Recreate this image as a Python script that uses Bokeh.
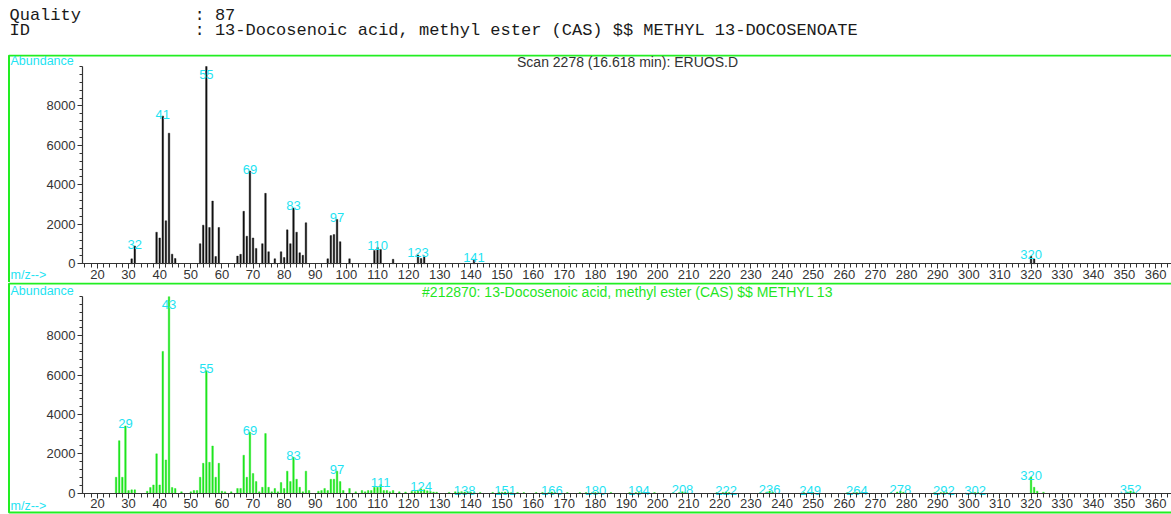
from bokeh.plotting import figure
from bokeh.models import Range1d, FixedTicker, SingleIntervalTicker, Label, BoxAnnotation, ColumnDataSource
from bokeh.layouts import column
from bokeh.embed import file_html
from bokeh.resources import INLINE
from bokeh.core.properties import value

# ---------------- data ----------------
header_quality = "87"
header_id = "13-Docosenoic acid, methyl ester (CAS) $$ METHYL 13-DOCOSENOATE"
top_title = "Scan 2278 (16.618 min): ERUOS.D"
bottom_title = "#212870: 13-Docosenoic acid, methyl ester (CAS) $$ METHYL 13"

top_mz = [31, 32, 39, 40, 41, 42, 43, 44, 45, 53, 54, 55, 56, 57, 58, 59,
          65, 66, 67, 68, 69, 70, 71, 73, 74, 75, 77, 79, 80, 81, 82, 83,
          84, 85, 86, 87, 94, 95, 96, 97, 98, 101, 109, 110, 111, 115,
          123, 124, 125, 141, 320, 321]
top_ab = [250, 900, 1600, 1310, 7490, 2180, 6620, 490, 270, 1020, 1960, 10000, 1840, 3180, 370, 1840,
          390, 480, 2660, 1400, 4700, 1310, 780, 1020, 3570, 610, 255, 610, 320, 1720, 1020, 2830,
          1600, 560, 430, 2080, 255, 1430, 1480, 2250, 1120, 255, 680, 830, 730, 230,
          450, 270, 400, 230, 380, 240]
top_labels = [32, 41, 55, 69, 83, 97, 110, 123, 141, 320]

bot_mz = [26, 27, 28, 29, 30, 31, 32, 36, 37, 38, 39, 40, 41, 42, 43, 44, 45, 47, 50, 51, 52,
          53, 54, 55, 56, 57, 58, 59, 60, 61, 63, 65, 66, 67, 68, 69, 70, 71, 72, 73, 74, 75,
          76, 77, 78, 79, 80, 81, 82, 83, 84, 85, 86, 87, 88, 91, 92, 93, 94, 95, 96, 97, 98,
          99, 101, 103, 105, 106, 107, 108, 109, 110, 111, 112, 113, 114, 115,
          117, 119, 121, 122, 123, 124, 125, 126, 127, 128, 129, 133, 135, 136, 137, 138, 139,
          140, 141, 143, 147, 149, 150, 151, 152, 153, 155, 157, 161, 163, 165, 166, 167, 171,
          175, 177, 179, 180, 181, 185, 191, 193, 194, 195, 199, 205, 207, 208, 209, 219, 221,
          222, 223, 233, 235, 236, 237, 247, 249, 250, 261, 263, 264, 265, 275, 277, 278, 279,
          289, 291, 292, 293, 301, 302, 303, 320, 321, 322, 324, 351, 352, 353]
bot_ab = [810, 2670, 810, 3420, 135, 170, 170, 100, 290, 420, 2000, 420, 7210, 1690, 9990, 290, 240, 70, 70, 135, 135,
          810, 1520, 6230, 1570, 2400, 810, 1520, 100, 70, 70, 240, 240, 1930, 810, 3100, 1000, 590, 70, 300, 3030, 300,
          70, 240, 70, 540, 240, 1120, 590, 1830, 710, 300, 70, 1120, 135, 100, 135, 240, 135, 710, 710, 1120, 590,
          135, 240, 70, 135, 70, 135, 135, 300, 300, 440, 135, 135, 70, 135,
          70, 60, 90, 90, 150, 220, 180, 120, 90, 60, 50, 40, 70, 60, 80, 60, 70,
          50, 50, 40, 40, 60, 50, 60, 50, 40, 40, 30, 30, 40, 40, 60, 40, 30,
          30, 30, 40, 30, 30, 30, 30, 30, 40, 30, 30, 30, 40, 70, 40, 30, 40,
          60, 40, 30, 50, 110, 50, 30, 40, 30, 30, 30, 40, 30, 30, 60, 110, 50,
          30, 30, 40, 30, 30, 40, 30, 820, 300, 100, 50, 60, 110, 60]
bot_labels = [29, 43, 55, 69, 83, 97, 111, 124, 138, 151, 166, 180, 194, 208, 222, 236,
              249, 264, 278, 292, 302, 320, 352]

y_major = [0, 2000, 4000, 6000, 8000]
y_minor = list(range(0, 10001, 400))

# ---------------- style / layout ----------------
W = 1171
CYAN = "#1ee3f2"
GREEN = "#1fe61f"
FRAME = "#22ee22"
INK = "#333333"
SANS = "Liberation Sans"
MONO = "Liberation Mono"

MZ0, MZ_PX0, PX_PER_MZ = 15.2, 82.0, 3.112   # m/z at the y axis, its pixel column, pixels per m/z
YMAX = 10000


def panel(height, px_zero, px_top, mz, ab, labels, bar_color, title, title_color,
          box_top_px, box_bottom_px, mz_label_px):
    # px_zero / px_top: canvas rows of abundance 0 and YMAX
    ppu = (px_zero - px_top) / YMAX
    x0 = MZ0 - MZ_PX0 / PX_PER_MZ
    x1 = x0 + W / PX_PER_MZ
    y1 = px_zero / ppu
    y0 = -(height - px_zero) / ppu
    p = figure(width=W, height=height, x_range=Range1d(x0, x1), y_range=Range1d(y0, y1),
               output_backend="svg", toolbar_location=None,
               min_border_left=0, min_border_right=0, min_border_top=0, min_border_bottom=0)
    p.grid.visible = False
    p.outline_line_color = None
    p.background_fill_color = "white"
    p.border_fill_color = "white"

    # green panel box (open on the right side)
    p.add_layout(BoxAnnotation(left=x0 + 8.5 / PX_PER_MZ, right=x1 + 20,
                               top=(px_zero - box_top_px) / ppu,
                               bottom=(px_zero - box_bottom_px) / ppu,
                               fill_color=None, line_color=FRAME,
                               line_width=2, line_alpha=1, level="underlay"))

    p.vbar(x=mz, top=ab, width=0.5, fill_color=bar_color, line_color=bar_color, line_width=0.4)

    lab = {m: a for m, a in zip(mz, ab)}
    ly = [min(lab[m], 9500) for m in labels]
    src = ColumnDataSource(dict(x=labels, y=ly, t=[str(m) for m in labels]))
    p.text(x="x", y="y", text="t", source=src, text_align="center", text_baseline="alphabetic",
           y_offset=-2, text_color=CYAN, text_font=value(SANS), text_font_size="13px")

    xa = p.xaxis[0]
    xa.ticker = SingleIntervalTicker(interval=10, num_minor_ticks=5)
    xa.fixed_location = 0
    xa.bounds = (MZ0, x1)
    ya = p.yaxis[0]
    ya.ticker = FixedTicker(ticks=y_major, minor_ticks=y_minor)
    ya.fixed_location = MZ0
    ya.bounds = (0, YMAX)
    for ax in (xa, ya):
        ax.axis_line_color = INK
        ax.axis_line_width = 1.2
        ax.major_tick_line_color = INK
        ax.minor_tick_line_color = INK
        ax.major_tick_in = 0
        ax.minor_tick_in = 0
        ax.major_label_text_font = SANS
        ax.major_label_text_font_size = "13px"
        ax.major_label_text_color = INK
    xa.major_tick_out = 5
    xa.minor_tick_out = 4
    xa.major_label_standoff = 1
    ya.major_tick_out = 5
    ya.minor_tick_out = 3
    ya.major_label_standoff = 2

    p.add_layout(Label(x=10, y=px_top - 6, x_units="canvas", y_units="canvas", text="Abundance",
                       text_font=SANS, text_font_size="12.5px", text_color=CYAN, text_baseline="middle"))
    p.add_layout(Label(x=627, y=px_top - 5, x_units="canvas", y_units="canvas", text=title,
                       text_font=SANS, text_font_size="14px", text_color=title_color,
                       text_baseline="middle", text_align="center"))
    p.add_layout(Label(x=10, y=mz_label_px, x_units="canvas", y_units="canvas", text="m/z-->",
                       text_font=SANS, text_font_size="12.5px", text_color=CYAN, text_baseline="middle"))
    return p


# header
ph = figure(width=W, height=54, x_range=Range1d(0, W), y_range=Range1d(54, 0),
            output_backend="svg", toolbar_location=None,
            min_border_left=0, min_border_right=0, min_border_top=0, min_border_bottom=0)
ph.axis.visible = False
ph.grid.visible = False
ph.outline_line_color = None
for x, y, t in [(9, 15, "Quality"), (194, 15, ": " + header_quality), (9, 30, "ID"), (194, 30, ": " + header_id)]:
    ph.add_layout(Label(x=x, y=y, x_units="canvas", y_units="canvas", text=t, text_font=MONO,
                        text_font_size="17px", text_color="#1a1a1a", text_baseline="middle"))

p1 = panel(228, 209.3, 12.0, top_mz, top_ab, top_labels, "#111111", top_title, INK,
           box_top_px=1.0, box_bottom_px=300.0, mz_label_px=220)
p2 = panel(232, 210.7, 14.0, bot_mz, bot_ab, bot_labels, GREEN, bottom_title, GREEN,
           box_top_px=1.0, box_bottom_px=230.0, mz_label_px=223)

layout = column(ph, p1, p2, spacing=0)
open("out.html", "w").write(file_html(layout, INLINE))
